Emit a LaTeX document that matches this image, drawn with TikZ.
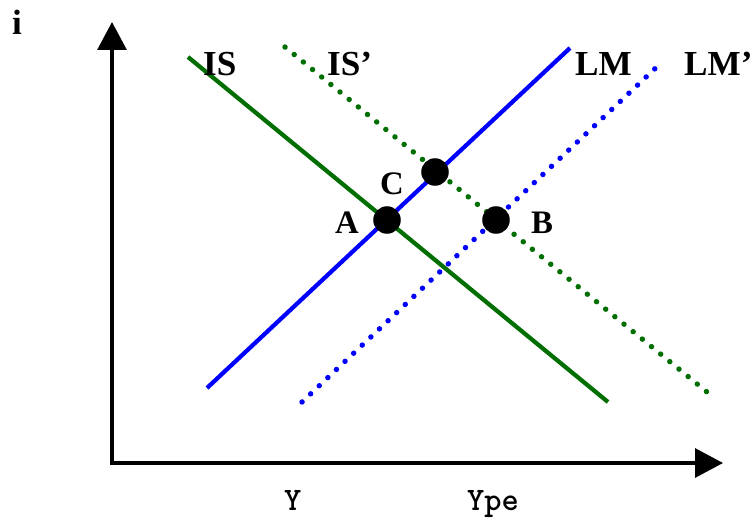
\documentclass[tikz,border=0pt]{standalone}
\usepackage{fontspec}
\setmainfont{Liberation Serif}
\usepackage{tikz}
\usetikzlibrary{arrows.meta}
\definecolor{isgreen}{RGB}{0,110,0}
\definecolor{lmblue}{RGB}{0,0,255}
\tikzset{
  axisarr/.style  = {-{Triangle[length=23.8pt,width=24.7pt]},line width=2.6pt},
  solidcurve/.style = {line width=3.6pt},
  dotcurve/.style = {line width=4.6pt,line cap=round,dash pattern=on 0.1pt off 10pt},
  eqdot/.style    = {circle,fill=black,inner sep=0pt,minimum size=23.5pt},
  curvelab/.style = {inner sep=0pt,anchor=base west,font=\fontsize{30}{32}\selectfont\bfseries},
  ptlab/.style    = {inner sep=0pt,anchor=base,font=\fontsize{28}{30}\selectfont\bfseries},
  axislab/.style  = {inner sep=0pt,anchor=base west,font=\fontsize{28}{30}\selectfont\ttfamily\bfseries}
}

\begin{document}
\begin{tikzpicture}[x=0.03cm,y=-0.03cm]
  \useasboundingbox (0,0) rectangle (752,519);
  % axes
  \coordinate (o)    at (112,463);
  \coordinate (itip) at (112,22);
  \coordinate (ytip) at (723,463);
  \draw[axisarr] (o |- 0,464.5) -- (itip);
  \draw[axisarr] (o) -- (ytip);
  % curves
  \coordinate (is1)  at (188,57);  \coordinate (is2)  at (608,402);
  \coordinate (isb1) at (285,47);  \coordinate (isb2) at (707,392);
  \coordinate (lm1)  at (207,388); \coordinate (lm2)  at (570,48);
  \coordinate (lmb1) at (302,402); \coordinate (lmb2) at (662,62);
  \draw[solidcurve,isgreen] (is1) -- (is2);
  \draw[dotcurve,isgreen]   (isb1) -- (isb2);
  \draw[solidcurve,lmblue]  (lm1) -- (lm2);
  \draw[dotcurve,lmblue]    (lmb1) -- (lmb2);
  % equilibria
  \node[eqdot] (A) at (387,220) {};
  \node[eqdot] (C) at (435,172) {};
  \node[eqdot] (B) at (496,220) {};
  % labels
  \node[curvelab] (iL)   at (12,34)  {i};
  \node[curvelab] (isL)  at (203,75) {IS};
  \node[curvelab] (isbL) at (327,75) {IS'};
  \node[curvelab] (lmL)  at (575,75) {LM};
  \node[curvelab] (lmbL) at (684,75) {LM'};
  \node[ptlab] (aL) at (347,233) {A};
  \node[ptlab] (cL) at (392,194) {C};
  \node[ptlab] (bL) at (542,233) {B};
  \node[axislab] (yL)   at (284,510) {Y};
  \node[axislab] (ypeL) at (467,510) {Ype};
\end{tikzpicture}
\end{document}
